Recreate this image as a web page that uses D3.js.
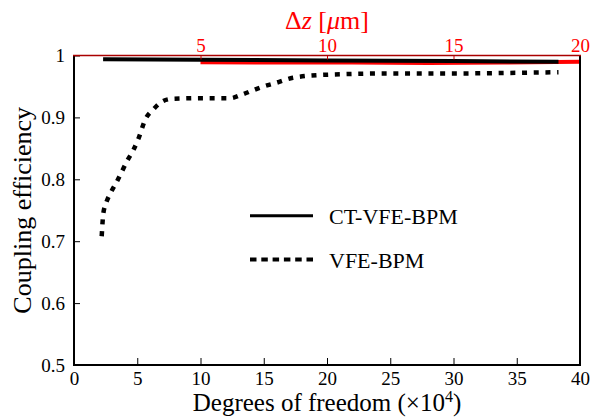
<!DOCTYPE html>
<html>
<head>
<meta charset="utf-8">
<script src="https://cdn.jsdelivr.net/npm/d3@7/dist/d3.min.js"></script>
<style>
  html, body { margin: 0; padding: 0; background: #fff; }
  svg { display: block; }
</style>
</head>
<body>
<script>
// ---- data ----
const ctDof = [2.3, 10, 20, 30, 38.3];
const ctEff = [0.994, 0.993, 0.992, 0.991, 0.990];

const dzVals = [5, 8, 11, 14, 17, 20];
const dzEff = [0.989, 0.9885, 0.9885, 0.988, 0.9885, 0.990];

const vfeDof = [2.19, 2.32, 2.58, 2.92, 3.38, 3.77, 4.21, 4.69, 5.08, 5.67, 6.27, 6.93, 7.72, 10, 12.33, 13.18, 14.05, 14.84, 16.0, 17.3, 20.0, 25, 30, 35, 38.3];
const vfeEff = [0.708, 0.745, 0.764, 0.779, 0.796, 0.812, 0.830, 0.847, 0.865, 0.898, 0.913, 0.925, 0.930, 0.931, 0.931, 0.936, 0.943, 0.949, 0.956, 0.964, 0.969, 0.971, 0.971, 0.972, 0.973];

const xTicks = [0, 5, 10, 15, 20, 25, 30, 35, 40];
const yTicks = [0.5, 0.6, 0.7, 0.8, 0.9, 1];
const topTicks = [5, 10, 15, 20];
const legendLabels = ["CT-VFE-BPM", "VFE-BPM"];

// ---- pick an installed serif font ----
function hasFont(name) {
  const c = document.createElement("canvas").getContext("2d");
  const s = "mmmmmmmmmwwwwwiiiilQ0.9";
  return ["monospace", "sans-serif"].some(base => {
    c.font = `40px ${base}`; const w0 = c.measureText(s).width;
    c.font = `40px "${name}", ${base}`; const w1 = c.measureText(s).width;
    return w0 !== w1;
  });
}
const candidates = ["Liberation Serif", "DejaVu Serif", "Noto Serif", "Tinos", "Times New Roman", "FreeSerif", "Nimbus Roman", "Times"];
const found = candidates.find(hasFont);
const FONT = found ? `"${found}", serif` : "serif";

// ---- layout ----
const W = 592, H = 418;
const L = 74, R = 580, T = 55.5, B = 365;

const svg = d3.select("body").append("svg").attr("width", W).attr("height", H)
  .attr("font-family", FONT);

const x = d3.scaleLinear([0, 40], [L, R]);
const xTop = d3.scaleLinear([0, 20], [L, R]);
const y = d3.scaleLinear([0.5, 1], [B, T]);

// lines
const dotted = "5,6.7";
svg.append("path")
  .attr("d", d3.line().x(d => xTop(d[0])).y(d => y(d[1]))(dzVals.map((v, i) => [v, dzEff[i]])))
  .attr("fill", "none").attr("stroke", "#ff0000").attr("stroke-width", 4);

svg.append("path")
  .attr("d", d3.line().x(d => x(d[0])).y(d => y(d[1]))(ctDof.map((v, i) => [v, ctEff[i]])))
  .attr("fill", "none").attr("stroke", "#000").attr("stroke-width", 4);

svg.append("path")
  .attr("d", d3.line().curve(d3.curveMonotoneX).x(d => x(d[0])).y(d => y(d[1]))(vfeDof.map((v, i) => [v, vfeEff[i]])))
  .attr("fill", "none").attr("stroke", "#000").attr("stroke-width", 4.5)
  .attr("stroke-dasharray", dotted);

// axes
const gB = svg.append("g").attr("transform", `translate(0,${B})`)
  .call(d3.axisBottom(x).tickValues(xTicks).tickSizeInner(-7).tickSizeOuter(0).tickPadding(7).tickFormat(d3.format("d")));
const gL = svg.append("g").attr("transform", `translate(${L},0)`)
  .call(d3.axisLeft(y).tickValues(yTicks).tickSizeInner(-6).tickSizeOuter(0).tickPadding(9)
    .tickFormat(d => d === 1 ? "1" : d.toFixed(1)));
const gT = svg.append("g").attr("transform", `translate(0,${T})`)
  .call(d3.axisTop(xTop).tickValues(topTicks).tickSizeInner(-4).tickSizeOuter(0).tickPadding(4).tickFormat(d3.format("d")));

[gB, gL, gT].forEach(g => g.attr("font-family", FONT));
[gB, gL].forEach(g => {
  g.selectAll("text").attr("font-size", 19).attr("fill", "#000");
  g.selectAll(".tick line").attr("stroke", "#000").attr("stroke-width", 1);
  g.select(".domain").remove();
});
gT.selectAll("text").attr("font-size", 19).attr("fill", "#ff0000");
gT.selectAll(".tick line").attr("stroke", "#cc0000").attr("stroke-width", 1);
gT.select(".domain").remove();

// frame
svg.append("line").attr("x1", L).attr("x2", L).attr("y1", T).attr("y2", B).attr("stroke", "#000").attr("stroke-width", 2);
svg.append("line").attr("x1", R).attr("x2", R).attr("y1", T).attr("y2", B).attr("stroke", "#000").attr("stroke-width", 2);
svg.append("line").attr("x1", L - 1).attr("x2", R + 1).attr("y1", B).attr("y2", B).attr("stroke", "#000").attr("stroke-width", 2);
svg.append("line").attr("x1", L - 1).attr("x2", R + 1).attr("y1", T).attr("y2", T).attr("stroke", "#aa0000").attr("stroke-width", 1.6);

// axis titles
svg.append("text").attr("x", (L + R) / 2).attr("y", 411).attr("text-anchor", "middle")
  .attr("font-size", 25).attr("fill", "#000")
  .html('Degrees of freedom (×10<tspan dy="-9" font-size="16">4</tspan><tspan dy="9">)</tspan>');

svg.append("text").attr("transform", `translate(31,${(T + B) / 2}) rotate(-90)`)
  .attr("text-anchor", "middle").attr("font-size", 26).attr("fill", "#000")
  .text("Coupling efficiency");

svg.append("text").attr("x", (L + R) / 2).attr("y", 29).attr("text-anchor", "middle")
  .attr("font-size", 26).attr("fill", "#ff0000")
  .html('Δ<tspan font-style="italic">z</tspan> [<tspan font-style="italic">μ</tspan>m]');

// legend
const leg = svg.append("g");
[0, 1].forEach(i => {
  const ly = 215.7 + i * 43.8;
  leg.append("line").attr("x1", 250).attr("x2", 313).attr("y1", ly).attr("y2", ly)
    .attr("stroke", "#000").attr("stroke-width", i === 0 ? 3 : 4)
    .attr("stroke-dasharray", i === 0 ? null : "6.5,4.8");
  leg.append("text").attr("x", 329).attr("y", ly + 8).attr("font-size", 22).attr("fill", "#000")
    .text(legendLabels[i]);
});
</script>
</body>
</html>
